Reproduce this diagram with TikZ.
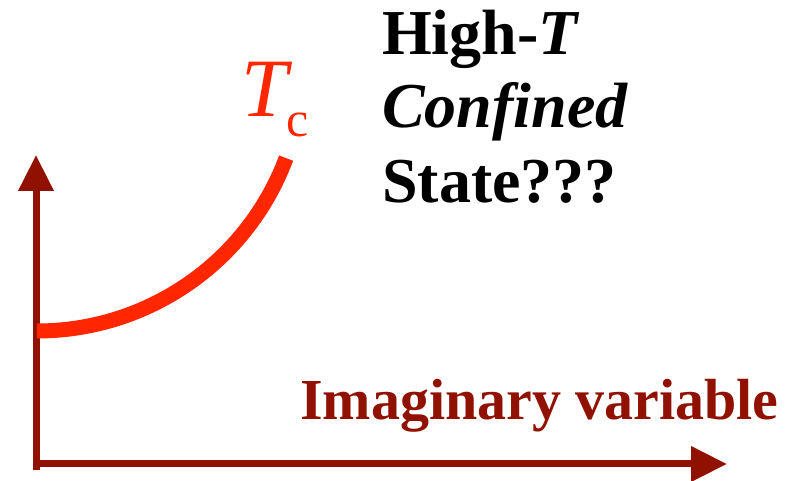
\documentclass[tikz,border=0pt]{standalone}
\usepackage{fontspec}
\setmainfont{Liberation Serif}
\usetikzlibrary{arrows.meta}
\definecolor{axisred}{RGB}{145,17,0}
\definecolor{curvered}{RGB}{255,38,0}
\newcommand{\bigfont}{\fontsize{64bp}{74bp}\selectfont\bfseries}
\newcommand{\labfont}{\fontsize{58bp}{66bp}\selectfont\bfseries}
\begin{document}
\begin{tikzpicture}[x=1bp,y=1bp,
  axisline/.style={draw=axisred,line width=7bp,-{Triangle[length=36bp,width=34bp]}},
  tccurve/.style={draw=curvered,line width=15bp},
  bigtext/.style={anchor=base west,inner sep=0pt},
  axislabel/.style={anchor=base west,inner sep=0pt,text=axisred}]
\useasboundingbox (0,0) rectangle (798,481);
% axes
\coordinate (ybot) at (36,11);
\coordinate (ytip) at (36,326);
\coordinate (xleft) at (32.5,17);
\coordinate (xtip) at (727,17);
\draw[axisline] (ybot) -- (ytip);
\draw[axisline] (xleft) -- (xtip);
% Tc curve
\coordinate (cstart) at (37,150);
\draw[tccurve] (cstart) arc[start angle=-90,end angle=-20.5,radius=266];
% labels
\node[anchor=base west,inner sep=0pt,text=curvered] (tc) at (241,364)
  {\fontsize{83bp}{90bp}\selectfont\itshape T\upshape\kern-1bp\raisebox{-20bp}{\fontsize{50bp}{55bp}\selectfont c}};
\node[bigtext] (l1) at (382,426) {\bigfont High-\textit{T}};
\node[bigtext] (l2) at (382,353) {\bigfont\itshape Confined};
\node[bigtext] (l3) at (382,278) {\bigfont State???};
\node[axislabel] (xlab) at (300,61) {\labfont Imaginary variable};
\end{tikzpicture}
\end{document}
